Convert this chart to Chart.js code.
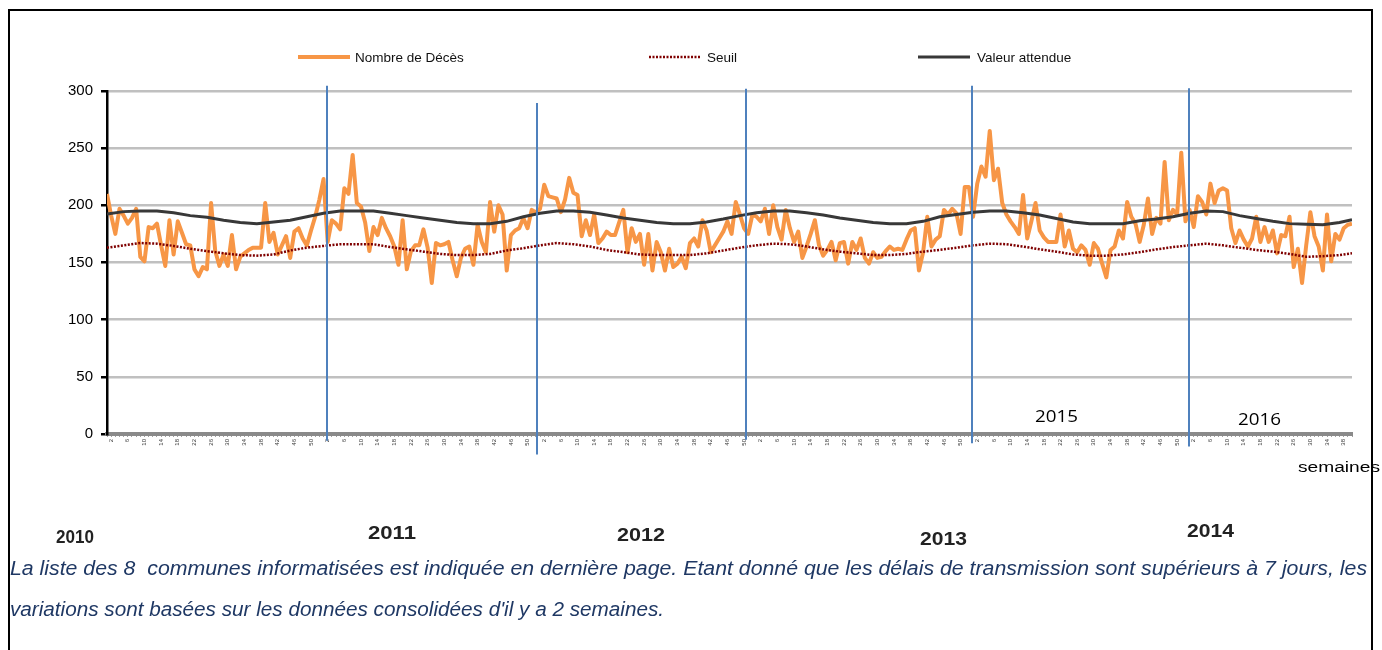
<!DOCTYPE html>
<html lang="fr">
<head>
<meta charset="utf-8">
<title>Nombre de décès hebdomadaires</title>
<script src="https://cdn.jsdelivr.net/npm/chart.js@4.4.1/dist/chart.umd.min.js"></script>
<style>
  html, body { margin: 0; padding: 0; background: #fff; overflow: hidden; }
  #wrap { position: relative; width: 1382px; height: 650px; }
  #chart { position: absolute; left: 0; top: 0; }
  #frame {
    position: absolute; left: 8px; top: 9px; width: 1365px; height: 700px;
    border: 2px solid #000; border-bottom: none; box-sizing: border-box;
  }
  .txt { position: absolute; white-space: nowrap; line-height: 1; transform-origin: 0 50%; }
  .year { font: bold 19px "Liberation Sans Narrow", "Liberation Sans", Arial, sans-serif; color: #222; }
  .yearIn { font: 17px "Open Sans", "Liberation Sans", sans-serif; color: #000; }
  .note { font: italic 20px "Liberation Sans", Arial, sans-serif; color: #1f3864; }
  .unit { font: 14px "Liberation Sans", Arial, sans-serif; color: #000; }
</style>
</head>
<body>
<div id="wrap">
  <canvas id="chart" width="1382" height="650"></canvas>
  <div id="frame"></div>
  <div class="txt yearIn" data-x="1035" data-y="415" data-w="43">2015</div>
  <div class="txt yearIn" data-x="1238" data-y="418" data-w="43">2016</div>
  <div class="txt unit" data-x="1298" data-y="467" data-w="82">semaines</div>
  <div class="txt year" data-x="56" data-y="537" data-w="38">2010</div>
  <div class="txt year" data-x="368" data-y="533" data-w="48">2011</div>
  <div class="txt year" data-x="617" data-y="535" data-w="48">2012</div>
  <div class="txt year" data-x="920" data-y="539" data-w="47">2013</div>
  <div class="txt year" data-x="1187" data-y="531" data-w="47">2014</div>
  <div class="txt note" data-x="10" data-y="568" data-w="1357">La liste des 8&nbsp; communes informatisées est indiquée en dernière page. Etant donné que les délais de transmission sont supérieurs à 7 jours, les</div>
  <div class="txt note" data-x="10" data-y="609" data-w="654">variations sont basées sur les données consolidées d'il y a 2 semaines.</div>
</div>
<script>
const seriesNames = ["Nombre de Décès", "Seuil", "Valeur attendue"];

// weekly deaths, one value per week (week 0 = first week shown)
const deaths = [
  210, 191, 175, 197, 191, 184, 189, 197, 155, 151,
  181, 180, 184, 165, 147, 187, 157, 186, 176, 166,
  165, 144, 138, 146, 144, 202, 160, 147, 157, 147,
  174, 144, 155, 158, 161, 163, 163, 163, 202, 168,
  176, 157, 165, 173, 154, 177, 180, 171, 165, 178,
  190, 205, 223, 168, 187, 184, 179, 215, 210, 244,
  202, 199, 185, 160, 181, 174, 189, 180, 173, 164,
  148, 187, 144, 160, 165, 165, 179, 163, 132, 167,
  165, 166, 168, 152, 138, 154, 162, 164, 148, 183,
  168, 159, 203, 177, 200, 192, 143, 174, 178, 180,
  189, 180, 196, 194, 197, 218, 208, 207, 206, 194,
  205, 224, 211, 209, 173, 187, 174, 192, 167, 171,
  177, 174, 174, 185, 196, 159, 180, 168, 175, 148,
  175, 143, 168, 159, 143, 162, 146, 149, 155, 145,
  167, 171, 164, 187, 178, 159, 165, 171, 177, 186,
  175, 203, 192, 180, 175, 192, 190, 186, 197, 175,
  200, 181, 170, 196, 180, 168, 177, 154, 164, 175,
  187, 165, 156, 161, 168, 152, 167, 168, 149, 168,
  161, 171, 154, 149, 159, 154, 155, 160, 164, 161,
  162, 161, 170, 178, 180, 143, 159, 190, 164, 170,
  173, 196, 192, 197, 193, 175, 216, 216, 190, 219,
  234, 225, 265, 222, 232, 202, 192, 186, 181, 175,
  209, 171, 186, 202, 178, 172, 168, 168, 168, 192,
  164, 178, 162, 159, 165, 161, 148, 167, 162, 149,
  137, 161, 164, 178, 171, 203, 190, 184, 168, 183,
  206, 175, 189, 184, 238, 187, 196, 192, 246, 186,
  196, 181, 208, 203, 192, 219, 202, 213, 215, 213,
  180, 167, 178, 170, 164, 171, 190, 168, 181, 168,
  178, 158, 174, 173, 190, 146, 162, 132, 165, 194,
  173, 164, 143, 192, 151, 175, 170, 180, 183, 184
];

// weeks at which the smooth reference curves were read
const refWeeks = [
  0, 4, 8, 12, 16, 20, 24, 28, 32, 36, 40, 44, 48, 52, 56, 60, 64, 68, 72, 76,
  80, 84, 88, 92, 96, 100, 104, 108, 112, 116, 120, 124, 128, 132, 136, 140, 144, 148, 152, 156,
  160, 164, 168, 172, 176, 180, 184, 188, 192, 196, 200, 204, 208, 212, 216, 220, 224, 228, 232, 236,
  240, 244, 248, 252, 256, 260, 264, 268, 272, 276, 280, 284, 288, 292, 296, 299
];
const threshold = [
  163, 165, 167, 166.5, 164.5, 162, 160, 158, 156.5, 156, 157, 160.5, 163, 164.5, 166, 166, 166, 163.5, 161.5, 159.5,
  157.5, 156.5, 156.5, 157.5, 160.5, 162.5, 165, 167, 166, 164, 161, 159, 157, 156.5, 156.5, 156.5, 158, 160.5, 163, 165,
  166.5, 166, 164, 161.5, 159.5, 158, 156.5, 156.5, 157.5, 159.5, 161, 163, 165, 166.5, 166, 164, 161.5, 159.5, 157, 156,
  156, 157, 159, 161.5, 163.5, 165, 166.5, 165, 163, 161, 159.5, 157.5, 155, 155.5, 156.5, 158
];
const expected = [
  192.5, 194.5, 195, 195, 193.5, 191, 189.5, 187, 185, 184, 185.5, 187, 190, 193, 195, 195, 195, 193, 191, 189,
  187, 185, 184, 184, 186, 190, 193, 195, 195, 194, 191.5, 189, 187, 185, 184, 184, 185.5, 188, 191, 193.5,
  195, 195, 193.5, 191.5, 189, 187, 185, 184, 184, 186, 190, 192, 194, 195, 195, 193.5, 191.5, 188.5, 185.5, 184,
  184, 184, 186.5, 188, 190, 193, 195, 194.5, 191, 188.5, 186, 184, 183.5, 183, 185, 187.5
];

// hand-drawn year separators (week position, top and bottom in axis units)
const yearWeeks = [52.8, 103.3, 153.5, 207.7, 259.9];
const yearTop = [304.5, 289.5, 302, 304.5, 302.5];
const yearBottom = [-6, -18, -5, -8, -11];

const yearLines = {
  id: "yearLines",
  afterDatasetsDraw(chart) {
    const { ctx, scales: { x, y } } = chart;
    ctx.save();
    ctx.strokeStyle = "#4f81bd";
    ctx.lineWidth = 2;
    yearWeeks.forEach((w, i) => {
      const px = Math.round(x.getPixelForValue(w));
      ctx.beginPath();
      ctx.moveTo(px, y.getPixelForValue(yearTop[i]));
      ctx.lineTo(px, y.getPixelForValue(yearBottom[i]));
      ctx.stroke();
    });
    ctx.restore();
  }
};

// legend spread out like the original
const legendSpots = [{ x: 298, tx: 355 }, { x: 649, tx: 707 }, { x: 918, tx: 977 }];
const wideLegend = {
  id: "wideLegend",
  afterDraw(chart) {
    const ctx = chart.ctx;
    ctx.save();
    ctx.font = '13.5px "Liberation Sans", Arial, sans-serif';
    ctx.textBaseline = "middle";
    chart.data.datasets.forEach((ds, i) => {
      const spot = legendSpots[i];
      ctx.strokeStyle = ds.borderColor;
      ctx.lineWidth = ds.borderWidth;
      ctx.setLineDash(ds.borderDash || []);
      ctx.beginPath();
      ctx.moveTo(spot.x, 57);
      ctx.lineTo(spot.x + 52, 57);
      ctx.stroke();
      ctx.fillStyle = "#111";
      ctx.fillText(ds.label, spot.tx, 58);
    });
    ctx.restore();
  }
};

new Chart(document.getElementById("chart"), {
  type: "line",
  data: {
    datasets: [
      {
        label: seriesNames[0],
        data: deaths.map((v, i) => ({ x: i, y: v })),
        borderColor: "#f79646",
        borderWidth: 4,
        borderJoinStyle: "round",
        order: 3
      },
      {
        label: seriesNames[1],
        data: refWeeks.map((w, i) => ({ x: w, y: threshold[i] })),
        borderColor: "#7f0000",
        borderWidth: 2.5,
        borderDash: [2, 1.5],
        order: 2
      },
      {
        label: seriesNames[2],
        data: refWeeks.map((w, i) => ({ x: w, y: expected[i] })),
        borderColor: "#383838",
        borderWidth: 3,
        order: 1
      }
    ]
  },
  options: {
    responsive: false,
    animation: false,
    elements: { point: { radius: 0 }, line: { tension: 0 } },
    layout: { padding: { top: 91, right: 30, left: 0, bottom: 0 } },
    plugins: { legend: { display: false }, tooltip: { enabled: false } },
    scales: {
      x: {
        type: "linear",
        min: 0,
        max: 299,
        afterFit: (s) => { s.height = 216; },
        border: { color: "#8a8a8a", width: 4 },
        grid: { drawOnChartArea: false, tickLength: 3, color: "#a0a0a0", lineWidth: 1 },
        ticks: {
          stepSize: 1,
          autoSkip: false,
          minRotation: 90,
          maxRotation: 90,
          padding: 2,
          color: "#333",
          font: { size: 6, family: "Liberation Sans" },
          callback: (v) => (v % 4 === 1 ? String((v % 52) + 1) : "")
        }
      },
      y: {
        min: 0,
        max: 300,
        afterFit: (s) => { s.width = 107; },
        border: { color: "#000", width: 2.5 },
        grid: { color: "#c0c0c0", lineWidth: 2.5, tickColor: "#000", tickLength: 6 },
        ticks: {
          stepSize: 50,
          padding: 8,
          color: "#000",
          font: { size: 15, family: "Liberation Sans" }
        }
      }
    }
  },
  plugins: [yearLines, wideLegend]
});

// squeeze each text block to the width it has in the original
function fitTexts() {
  document.querySelectorAll(".txt").forEach((el) => {
    el.style.left = el.dataset.x + "px";
    el.style.top = el.dataset.y + "px";
    el.style.transform = "translateY(-50%)";
    const w = el.getBoundingClientRect().width;
    const s = Number(el.dataset.w) / w;
    el.style.transform = "translateY(-50%) scaleX(" + s.toFixed(4) + ")";
  });
}
document.fonts.ready.then(fitTexts);
fitTexts();
</script>
</body>
</html>
